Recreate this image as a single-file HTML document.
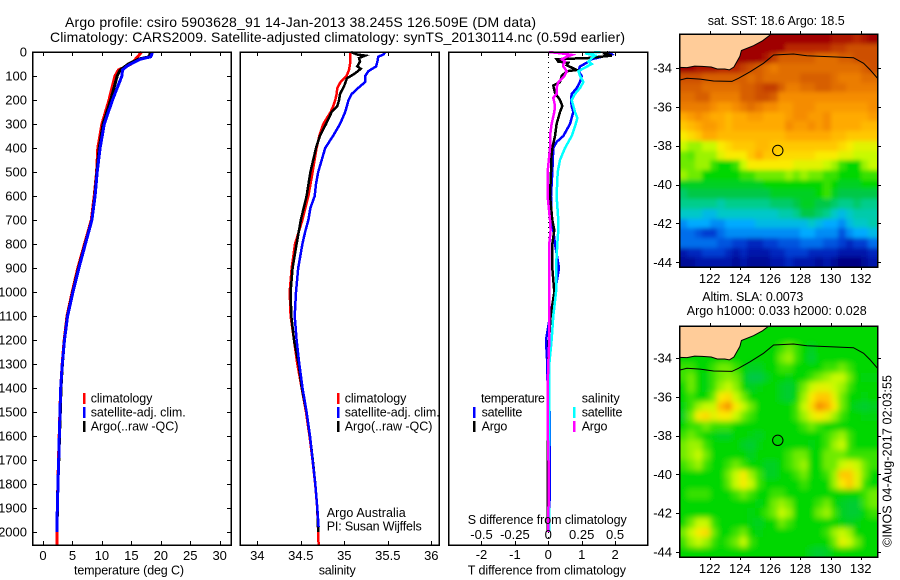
<!DOCTYPE html>
<html>
<head>
<meta charset="utf-8">
<title>Argo profile</title>
<style>
html,body{margin:0;padding:0;background:#fff;}
svg{display:block;}
text{font-family:"Liberation Sans",sans-serif;fill:#000;font-size:12.5px;}
.t13{font-size:13px;}
.title{font-size:14px;}
.frame{fill:none;stroke:#000;stroke-width:1.5;shape-rendering:crispEdges;}
.swatch{stroke:none;shape-rendering:crispEdges;}
</style>
</head>
<body>
<svg id="chart" xmlns="http://www.w3.org/2000/svg" width="900" height="580" viewBox="0 0 900 580">
  <defs>
    <clipPath id="clip-sst"><rect x="679.5" y="34" width="198" height="233"/></clipPath>
    <clipPath id="clip-sla"><rect x="679.5" y="326" width="198" height="231"/></clipPath>
    <filter id="soften-sst" filterUnits="userSpaceOnUse" x="650" y="0" width="250" height="300"><feGaussianBlur stdDeviation="2"/></filter>
    <filter id="soften-sla" filterUnits="userSpaceOnUse" x="650" y="300" width="250" height="280"><feGaussianBlur stdDeviation="2.8"/></filter>
  </defs>
  <text class="title" x="65" y="27" textLength="471" lengthAdjust="spacing">Argo profile: csiro 5903628_91 14-Jan-2013 38.245S 126.509E (DM data)</text>
  <text class="title" x="50" y="42" textLength="575" lengthAdjust="spacing">Climatology: CARS2009. Satellite-adjusted climatology: synTS_20130114.nc (0.59d earlier)</text>

  <g id="marks-temp"></g>
  <g id="marks-sal"></g>
  <g id="marks-diff"></g>
  <g id="map-sst" clip-path="url(#clip-sst)"></g>
  <g id="map-sla" clip-path="url(#clip-sla)"></g>
  <g id="axes"></g>

  <rect class="frame" x="32.5" y="52" width="198.5" height="493"/>
  <rect class="frame" x="240" y="52" width="199" height="493"/>
  <rect class="frame" x="448.5" y="52" width="199" height="493"/>
  <rect class="frame" x="679.5" y="34" width="198" height="233"/>
  <rect class="frame" x="679.5" y="326" width="198" height="231"/>

  <!-- temperature legend -->
  <rect class="swatch" x="83" y="393" width="2.5" height="11" fill="#ff0000"/>
  <rect class="swatch" x="83" y="407" width="2.5" height="11" fill="#0000ff"/>
  <rect class="swatch" x="83" y="421" width="2.5" height="11" fill="#000000"/>
  <text x="90.7" y="402.5" textLength="61.7">climatology</text>
  <text x="90.7" y="416.5" textLength="95">satellite-adj. clim.</text>
  <text x="90.7" y="430.5" textLength="87.7">Argo(..raw -QC)</text>

  <!-- salinity legend -->
  <rect class="swatch" x="337" y="393" width="2.5" height="11" fill="#ff0000"/>
  <rect class="swatch" x="337" y="407" width="2.5" height="11" fill="#0000ff"/>
  <rect class="swatch" x="337" y="421" width="2.5" height="11" fill="#000000"/>
  <text x="344.7" y="402.5" textLength="61.7">climatology</text>
  <text x="344.7" y="416.5" textLength="95">satellite-adj. clim.</text>
  <text x="344.7" y="430.5" textLength="87.7">Argo(..raw -QC)</text>
  <text x="326.7" y="517" textLength="79">Argo Australia</text>
  <text x="326.7" y="530.7" textLength="95">PI: Susan Wijffels</text>

  <!-- difference legend -->
  <text x="481" y="402.5" textLength="64">temperature</text>
  <text x="581.7" y="402.5" textLength="38">salinity</text>
  <rect class="swatch" x="473" y="407" width="2.5" height="11" fill="#0000ff"/>
  <rect class="swatch" x="473" y="421" width="2.5" height="11" fill="#000000"/>
  <rect class="swatch" x="573" y="407" width="2.5" height="11" fill="#00ffff"/>
  <rect class="swatch" x="573" y="421" width="2.5" height="11" fill="#ff00ff"/>
  <text x="481.6" y="416.5" textLength="40.7">satellite</text>
  <text x="481.6" y="430.5" textLength="25.7">Argo</text>
  <text x="581.7" y="416.5" textLength="40.7">satellite</text>
  <text x="581.7" y="430.5" textLength="25.7">Argo</text>

  <!-- axis titles -->
  <text x="74" y="574.5" textLength="110">temperature (deg C)</text>
  <text x="318.7" y="574.5" textLength="37">salinity</text>
  <text x="467.7" y="574.5" textLength="158.3">T difference from climatology</text>
  <text x="467.7" y="524" textLength="159">S difference from climatology</text>

  <!-- map titles -->
  <text x="707.7" y="25" textLength="137">sat. SST: 18.6 Argo: 18.5</text>
  <text x="702.3" y="301" textLength="101">Altim. SLA: 0.0073</text>
  <text x="686.7" y="315" textLength="180">Argo h1000: 0.033 h2000: 0.028</text>
  <text transform="translate(891.5,547) rotate(-90)" x="0" y="0" textLength="172">©IMOS 04-Aug-2017 02:03:55</text>
</svg>

<script>
// ---------- profile data ----------
const tempClimDepth = [0,50,75,100,200,300,400,500,600,700,800,900,1000,1100,1200,1300,1400,1500,1600,1700,1800,1900,2000,2054];
const tempClimValue = [16.75,15.0,12.8,12.2,11.2,10.0,9.3,9.1,8.7,8.2,7.05,5.9,4.95,4.08,3.6,3.26,3.0,2.87,2.75,2.64,2.53,2.42,2.38,2.38];
const tempArgoDepth = [0,20,30,50,75,100,150,200,300,400,500,600,700,800,900,1000,1100,1200,1300,1400,1500,1600,1700,1800,1900,2000];
const tempArgoValue = [18.3,18.0,16.2,14.5,13.1,12.6,12.05,11.5,10.2,9.55,9.15,8.8,8.28,7.15,6.02,5.05,4.14,3.63,3.3,3.05,2.93,2.8,2.68,2.53,2.44,2.38];
const tempSatDepth = [0,20,30,50,60,75,100,150,200,300,400,500,600,700,800,900,1000,1100,1200,1300,1400,1500,1600,1700,1800,1900,2000];
const tempSatValue = [18.6,18.3,16.5,14.9,14.2,13.5,13.4,12.6,11.8,10.4,9.7,9.2,8.85,8.3,7.2,6.1,5.1,4.17,3.65,3.28,3.0,2.89,2.77,2.66,2.55,2.43,2.38];

const salClimDepth = [0,50,75,100,125,150,175,200,225,250,300,350,400,500,600,700,800,900,1000,1100,1200,1300,1400,1500,1600,1700,1800,1900,2000,2054];
const salClimValue = [35.07,35.065,35.054,35.027,34.958,34.92,34.912,34.897,34.874,34.843,34.759,34.713,34.682,34.636,34.587,34.518,34.433,34.395,34.372,34.383,34.422,34.46,34.51,34.56,34.6,34.634,34.665,34.688,34.7,34.705];
const salArgoDepth = [0,10,15,25,40,60,70,90,110,140,175,200,225,250,300,350,400,500,600,700,800,900,1000,1100,1200,1300,1400,1500,1600,1700,1800,1900,2000];
const salArgoValue = [35.08,35.14,35.24,35.17,35.18,35.15,35.19,35.12,35.03,35.0,34.95,34.94,34.92,34.855,34.79,34.72,34.675,34.61,34.567,34.5,34.452,34.406,34.383,34.391,34.422,34.475,34.512,34.565,34.605,34.638,34.667,34.69,34.7];
const salSatDepth = [0,10,20,40,60,80,100,125,150,175,200,250,300,350,400,450,500,550,600,650,700,750,800,900,1000,1100,1200,1300,1400,1500,1600,1700,1800,1900,1980];
const salSatValue = [35.47,35.45,35.39,35.38,35.365,35.276,35.24,35.24,35.16,35.085,35.05,35.01,34.95,34.87,34.78,34.74,34.7,34.675,34.66,34.61,34.587,34.55,34.518,34.47,34.445,34.43,34.452,34.483,34.52,34.567,34.606,34.636,34.667,34.69,34.705];

const diffTArgoDepth = [0,7,15,25,30,40,45,55,75,80,100,125,140,170,200,225,250,300,350,400,450,500,600,700,742,800,900,1000,1100,1200,1300,1400,1600,1800,2000];
const diffTArgoValue = [1.8,1.7,1.9,1.2,.25,.3,.6,.55,.85,.55,.4,.35,.15,.2,.35,.42,.35,.25,.2,.12,.08,.08,.05,.12,.18,.12,.12,.18,.07,.02,0,-.02,-.02,-.02,-.02];
const diffTSatDepth = [0,10,20,30,45,60,80,100,125,150,175,200,225,250,300,350,375,400,500,600,700,742,800,900,1000,1100,1200,1300,1400,1500,1800,1900,2000];
const diffTSatValue = [1.8,1.9,1.6,1.3,1.15,.95,.9,1.0,.95,.85,.7,.68,.7,.75,.65,.45,.25,.15,.12,.08,.1,.15,.2,.32,.2,.05,-.07,-.03,-.02,.04,.05,.03,0];
const diffSSatDepth = [0,5,15,25,40,50,65,80,100,125,150,175,200,250,275,300,350,400,450,500,600,700,742,800,900,1000,1100,1200,1300,1400,1600,1700,1850,1900,2000];
const diffSSatValue = [.39,.275,.35,.325,.3,.325,.275,.225,.2375,.2625,.2375,.2,.175,.2,.2175,.205,.175,.125,.0875,.07,.0625,.075,.075,.0675,.0575,.0575,.0375,.025,.0075,.0075,.0075,.002,.002,.005,.005];
const diffSArgoDepth = [0,5,12,20,30,40,50,60,80,100,125,150,175,190,225,250,300,350,400,500,600,700,742,800,1200,1300,1400,1600,1750,1800,2000];
const diffSArgoValue = [.005,.0875,.175,.1375,.1,.125,.1125,.1125,.1375,.12,.075,.0625,.0625,.0375,.05,.045,.025,.0125,.0125,-.005,-.005,.0125,.0175,.0075,.0075,0,-.005,-.003,.004,.003,0];

// ---------- tick labels ----------
const depthTicks = [0,100,200,300,400,500,600,700,800,900,1000,1100,1200,1300,1400,1500,1600,1700,1800,1900,2000];
const tempTicks = [0,5,10,15,20,25,30];
const salTicks = [34,34.5,35,35.5,36];
const diffTTicks = [-2,-1,0,1,2];
const diffSTicks = [-0.5,-0.25,0,0.25,0.5];
const lonTicks = [122,124,126,128,130,132];
const latTicks = [-34,-36,-38,-40,-42,-44];

// ---------- map data (colour-scale levels, 0 = coldest/lowest, 18 = warmest/highest; 0.5 degree cells) ----------
const sstGrid = [
[18,18,18,18,18,18,18,18,18,18,18,18,18,18,18,18,18,18,18,18,17.5,17.5,17.5,17,17.5,18],
[18,18,18,18,18,18,18,18,18,18,18,18,18,18,17,17,17,17,17,17,16.5,16.5,16,16,16,16],
[18,18,18,18,18,18,18,18,18,18,18,17.5,16.5,15.5,15.5,15.5,15.5,15.5,15,15,15,15.5,15.5,16,16,16],
[18,18,17.5,17.5,17.5,17,17,17,16.5,16,15.5,15,14.5,15,15,15,15,15,15,15,15,15,15,15,15.5,16],
[16,16,16,15.5,15.5,15.5,15.5,15.5,15.5,15,15.5,15,15,15,15,15,15.5,15.5,15.5,15.5,15,14.5,14.5,14.5,15,15],
[15.5,15.5,15.5,15,15,15,15,15,15.5,15.5,16,16.5,16.5,15.5,14.5,14.5,15,15,15.5,15.5,15,15,14.5,14.5,14.5,14.5],
[15,15,15.5,15.5,14.5,14.5,14.5,14.5,15.5,15.5,16,16,15.5,14,14,14,14,14,14,14,14,14,14,14,14,14],
[14.5,14.5,14.5,14.5,14,13.5,13.5,14,14.5,15,14.5,14,14,13.5,13.5,14,14,14,13.5,13.5,13.5,13.5,13.5,13.5,13.5,14],
[13,13.5,14,13.5,13,13,12.5,13,13,13.5,13.5,13,13,13,13.5,14,14,13.5,13.5,14,13,13,13,13,13,13.5],
[12,12.5,13,13.5,13.5,13,12.5,13,13,13,13,13,13,13,14,13.5,13.5,14,13.5,14,13,13,13,13,12.5,12.5],
[11,11.5,12,13,13,12.5,12.5,12.5,12.5,12.5,12.5,12.5,12.5,12.5,13,13,13,13,13,13,12.5,12.5,12,12,12,12],
[10,9.5,9.5,10,10,11,11.5,12,12,12,12.5,12.5,12,12,12,12,12,12,12,12,12,11.5,11,10.5,10.5,10.5],
[9,8.8,9.5,9.5,9.5,10.5,11,11,11,12,13,12,12,11.5,11.5,11.5,11.5,11.5,11,11,11,10.5,10.5,10,10,10],
[9,9,9.5,9.5,8.5,8,8,8.5,10,11,11,11,11,11,11,10.5,10.5,10.5,10.5,10,9.5,8.5,8,8,9.5,10],
[9.5,9,9,8,8,8,8,8,8.5,8.5,9,9,9,9,9.5,9,9.5,9,9,8.5,8.5,8,8,8,8.5,8.5],
[7.5,7.5,7.5,7.5,7.5,7.5,7.5,7.5,7.5,7.5,7.5,8,8,8,8,8,8,8,8,8.5,8,7.5,7.5,7.5,8,8],
[6.5,7,7,7,7,7,7,7,7,7,7,7,7.5,7.5,7.5,7.5,7.5,7.5,8,8.5,7.5,7,7,7,7,7],
[6,6,6,6,6,5.5,6,6,6,6,6,6,6.5,6.5,6.5,7,7.5,7.5,7,7,6.5,6,6,6.5,6,6],
[5,5,5,4.5,4.5,5,5,5,5,5,5,5,5,5.5,5.5,6,7,7,6.5,6,5,4.5,5,5.5,5.5,5.5],
[3.5,4,4,4,3.5,3.5,4,4,4,4,4.5,4.5,4.5,4.5,4.5,4.5,4.5,5,4.5,4,4,3.5,4.5,5,5,5.5],
[3,3,2.5,2,2,3,3.5,3.5,3.5,3.5,3.5,3.5,3.5,3.5,3.5,3.5,4,4,3.5,3.5,3.5,2.5,3.5,4,4,4.5],
[3,3,3,3,3,2.5,2.5,2,2,1.5,1.5,2,2,2.5,2.5,2.5,3,3,3,2.5,2.5,2,1.5,2,2,3],
[1,1.5,1.5,2,2,2,1.5,1,1.5,1,1,1,1.5,1.5,2,2,2,1.5,1.5,1.5,1.5,1,1,1,1,1.5],
[.5,.5,1,1,1,1,1,.5,1,.5,.5,.5,1,1,1.5,1,1,1,.5,1,.5,0,0,0,.5,1]
];
const slaGrid = [
[8,8,8,8,8,8,8,8,8,8,8,8,8,8,8,8,8,8,8,8,8,8,8,8,8,8],
[8,8,8,8,8,8,8,8,8,8,8,8,8,8,8,8,8,8,8,8,8,8,8,8,8,8],
[8,8,8,8,8,8,8,8,8,8,8,8,8,8.5,9,8.5,8,7.5,8,8,8,8,8,8,8,8],
[8,8,8,8,8,8,8,8,8,8,8,8,8,9,9.5,8.5,8,7.3,8,8,8,8,8,8,8,8],
[8.5,8.5,8,8,8.5,9,9,8.5,8,7.5,7.5,8,8,8.5,8.5,8,8,8,8,8.5,8.5,9,8.5,8,8,8],
[8.5,9,8,7.8,8.5,9,9.3,9,7.8,7,7,7.5,8,8,7.8,8,8,8.5,9,9.5,10,10,9,8,7.8,7.8],
[8,9,8,7.8,8.5,9.5,10,9.3,8,7.5,7.8,8,8,7.5,7.3,7.8,9,10,10.5,10.5,10,9.5,8.5,8,8,8],
[8,8.5,8,8,9,11,11.5,10,9,8,8,8,8,7.5,7.3,8,9.5,11,12,12,10.5,9,8,8,7.8,8],
[7.8,8.5,9.5,10,10,12.5,14,11,10,9,8,8,8,8,8,8.5,10,11.5,14,13,11,9,8,7.5,7.3,7.5],
[7.5,9,11,11.5,10.5,11,11,10,9,8.5,8,8,8,8,8,8.5,9.5,10.5,11,10.5,9.5,8.5,8,8,7.8,7.8],
[8,8.5,8.5,9,8.5,8.5,8.5,8,8,8,8,8,8,8,8,8,8.5,9,8.5,8,8,8,8,8,8,8],
[8.5,9,8.5,8,7.8,7.5,7.5,8,8,7.8,7.5,8,8,8,8,8,8,8,8,8.5,9,9.5,8.5,8,8,8],
[9,9.5,9.5,8.5,8,8,8,8,7.5,7.3,7.8,8,8,8,8,8,8,7.8,8,8.5,9.5,10,8.5,8,8,8],
[9,9.5,10,9,8,8,8,8,8,7.5,8,8,8,8,8.5,9,9,8,8,9,9,9,8.5,8.5,8.5,8.5],
[8.5,9,9.5,8.5,8,8,8.5,9,8.5,8,8,7.5,7.5,8,8.5,9,9.5,8,8,9,9,10,10.5,10,9,8.5],
[8,8,8,8,8,8,9,10,11,9.5,8.5,7.5,7.5,8,8,8.5,9,8,8,8.5,9.5,12,12,10.5,9,8],
[8,8,8,8,8,8,8.8,10,11,10,8.5,8,8,8,8,8,8.5,8,8,8,9.5,11,12,10.5,8.5,8],
[8,8.5,8.5,8.5,8,8,8,8.5,9,8.5,8,8,8.5,8.5,8,8,8,8,8,8,8,8,8,8,8.5,9],
[8,8,8,8,8,8,8,8,8,8,7.8,8,9,9.5,9,8,8,8,8.5,9,8,7.5,7.3,7.3,8.5,9],
[8,8,8,8,8,8,8,8,8,7.8,8,8.5,9,10,9.5,8,8,8,9,9.5,8.5,7.5,7.3,7.3,8,8.5],
[8,9,10,10,8.5,8,8,8,8,7.8,7.5,8,8,9,8.5,8,8,8,8,8,8,7.8,7.5,7.8,8,8],
[9,10,11,11.5,9,8,8,8.5,9,8,7.8,8,8,8,8,8,8,8,8,8.5,9.5,10,9.5,8,8,8],
[8.5,9.5,10,9.5,8.5,8,8.5,9,10,8.5,8,8,8,8,8,8,8,8,8,8,9,10.5,10,9,8,8],
[8,8,8,8,8,8,8,8,8,8,8,8,8,8,8,8,8,7.5,7.3,7.5,8,8,8,8,8,8]
];
const gridLonStart = 120;
const gridLatStart = -32.25;
const gridStep = 0.5;

// coastline and 200 m contour, as lon/lat pairs
const coastLon = [120,120.5,121,121.5,122.1,122.5,123,123.3,123.6,124,124.1,124.9,125.5,126];
const coastLat = [-33.97,-33.98,-33.9,-33.92,-33.95,-34.05,-34.05,-34.1,-33.95,-33.4,-33.1,-32.85,-32.6,-32.3];
const contourLon = [120,120.49,121.37,122.25,123.47,123.91,124.68,125.56,126.23,127.55,128.44,129.98,131.52,132.19,132.63,133.11];
const contourLat = [-34.63,-34.53,-34.57,-34.67,-34.69,-34.53,-34.19,-33.76,-33.33,-33.28,-33.37,-33.42,-33.47,-33.76,-34.1,-34.53];
const profileLon = 126.509;
const profileLat = -38.245;

// colour scale stops (level -> rgb)
const colourScale = [[0,0,130],[0,20,170],[0,60,210],[0,110,235],[0,170,255],[0,200,200],[0,205,140],[0,200,70],[0,215,0],[110,235,0],[200,250,0],[250,235,0],[255,200,0],[255,170,0],[245,140,0],[225,110,0],[205,80,0],[185,40,0],[160,0,0]];

// ---------- axis functions ----------
const SVGNS = 'http://www.w3.org/2000/svg';
const yDepth = d => 52 + 0.24 * d;
const xTemp = t => 43 + 5.89 * t;
const xSal = s => 257.3 + 87 * (s - 34);
const xDiffT = t => 548.3 + 33.4 * t;
const xDiffS = s => 548.3 + 133.6 * s;
const xLon = lon => 679.5 + 15.1 * (lon - 120);
const ySst = lat => 68 + 19.43 * (-34 - lat);
const ySla = lat => 358 + 19.4 * (-34 - lat);

function colourFor(v){
  const lo = Math.max(0, Math.min(colourScale.length - 2, Math.floor(v)));
  const f = v - lo;
  const a = colourScale[lo], b = colourScale[lo + 1];
  return 'rgb(' + [0,1,2].map(i => Math.round(a[i] + (b[i] - a[i]) * f)).join(',') + ')';
}
function make(tag, parent){
  const el = document.createElementNS(SVGNS, tag);
  parent.appendChild(el);
  return el;
}
function drawProfile(parent, name, depths, values, xf, colour, width){
  const el = make('polyline', parent);
  
  
  el.setAttribute('points', depths.map((d, i) => xf(values[i]).toFixed(1) + ',' + yDepth(d).toFixed(1)).join(' '));
  el.setAttribute('fill', 'none');
  el.setAttribute('stroke', colour);
  el.setAttribute('stroke-width', width);
  el.setAttribute('shape-rendering', 'crispEdges');
}
function drawTick(parent, x1, y1, x2, y2){
  const el = make('line', parent);
  
  
  el.setAttribute('x1', x1);
  el.setAttribute('y1', y1);
  el.setAttribute('x2', x2);
  el.setAttribute('y2', y2);
  el.setAttribute('stroke', '#000');
  el.setAttribute('stroke-width', '1');
  el.setAttribute('shape-rendering', 'crispEdges');
}
function drawLabel(parent, x, y, str, anchor, cls){
  const el = make('text', parent);
  
  
  el.setAttribute('x', x);
  el.setAttribute('y', y);
  el.setAttribute('text-anchor', anchor);
  el.setAttribute('class', cls);
  el.textContent = str;
}

// ---------- profile panels ----------
const gTemp = document.getElementById('marks-temp');
drawProfile(gTemp, 'temperature-climatology-line', tempClimDepth, tempClimValue, xTemp, '#ff0000', 3);
drawProfile(gTemp, 'temperature-argo-line', tempArgoDepth, tempArgoValue, xTemp, '#000000', 3);
drawProfile(gTemp, 'temperature-satellite-line', tempSatDepth, tempSatValue, xTemp, '#0000ff', 3);

const gSal = document.getElementById('marks-sal');
drawProfile(gSal, 'salinity-climatology-line', salClimDepth, salClimValue, xSal, '#ff0000', 2.5);
drawProfile(gSal, 'salinity-argo-line', salArgoDepth, salArgoValue, xSal, '#000000', 2.5);
drawProfile(gSal, 'salinity-satellite-line', salSatDepth, salSatValue, xSal, '#0000ff', 2.5);

const gDiff = document.getElementById('marks-diff');
const zeroLine = make('line', gDiff);


zeroLine.setAttribute('x1', xDiffT(0));
zeroLine.setAttribute('x2', xDiffT(0));
zeroLine.setAttribute('y1', yDepth(0));
zeroLine.setAttribute('y2', yDepth(2054));
zeroLine.setAttribute('stroke', '#000');
zeroLine.setAttribute('stroke-width', '1');
zeroLine.setAttribute('stroke-dasharray', '1 4');
zeroLine.setAttribute('shape-rendering', 'crispEdges');
drawProfile(gDiff, 't-difference-satellite-line', diffTSatDepth, diffTSatValue, xDiffT, '#0000ff', 2.5);
drawProfile(gDiff, 't-difference-argo-line', diffTArgoDepth, diffTArgoValue, xDiffT, '#000000', 2.5);
drawProfile(gDiff, 's-difference-satellite-line', diffSSatDepth, diffSSatValue, xDiffS, '#00ffff', 2.5);
drawProfile(gDiff, 's-difference-argo-line', diffSArgoDepth, diffSArgoValue, xDiffS, '#ff00ff', 2.5);

// ---------- maps ----------
function drawMap(id, grid, yLat, name, softenId){
  const g = document.getElementById(id);
  const cells = make('g', g);
  
  
  cells.setAttribute('filter', 'url(#' + softenId + ')');
  grid.forEach((row, i) => {
    row.forEach((v, j) => {
      const lon = gridLonStart + j * gridStep;
      const lat = gridLatStart - i * gridStep;
      // outermost cells run past the frame so the softening does not fade at the edge
      const x0 = Math.round(xLon(lon)) - (j === 0 ? 12 : 0);
      const x1 = Math.round(xLon(lon + gridStep)) + (j === row.length - 1 ? 12 : 0);
      const y0 = Math.round(yLat(lat)) - (i === 0 ? 12 : 0);
      const y1 = Math.round(yLat(lat - gridStep)) + (i === grid.length - 1 ? 14 : 0);
      const cell = make('rect', cells);
      
      
      cell.setAttribute('x', x0);
      cell.setAttribute('y', y0);
      cell.setAttribute('width', x1 - x0);
      cell.setAttribute('height', y1 - y0);
      cell.setAttribute('fill', colourFor(v));
      cell.setAttribute('shape-rendering', 'crispEdges');
    });
  });
  const top = yLat(gridLatStart) - 10;
  const coastPts = coastLon.map((lon, i) => xLon(lon).toFixed(1) + ',' + yLat(coastLat[i]).toFixed(1));
  const land = make('polygon', g);
  
  
  land.setAttribute('points', xLon(120) + ',' + top + ' ' + coastPts.join(' ') + ' ' + xLon(126.1) + ',' + top);
  land.setAttribute('fill', '#ffcc99');
  land.setAttribute('stroke', 'none');
  const coast = make('polyline', g);
  
  
  coast.setAttribute('points', coastPts.join(' '));
  coast.setAttribute('fill', 'none');
  coast.setAttribute('stroke', '#000');
  coast.setAttribute('stroke-width', '1');
  const contour = make('polyline', g);
  
  
  contour.setAttribute('points', contourLon.map((lon, i) => xLon(lon).toFixed(1) + ',' + yLat(contourLat[i]).toFixed(1)).join(' '));
  contour.setAttribute('fill', 'none');
  contour.setAttribute('stroke', '#000');
  contour.setAttribute('stroke-width', '1');
  const marker = make('circle', g);
  
  
  marker.setAttribute('cx', xLon(profileLon));
  marker.setAttribute('cy', yLat(profileLat));
  marker.setAttribute('r', '5.2');
  marker.setAttribute('fill', 'none');
  marker.setAttribute('stroke', '#000');
  marker.setAttribute('stroke-width', '1');
}
drawMap('map-sst', sstGrid, ySst, 'sst-map', 'soften-sst');
drawMap('map-sla', slaGrid, ySla, 'sla-map', 'soften-sla');

// ---------- ticks ----------
const gAxes = document.getElementById('axes');
depthTicks.forEach(d => {
  const y = Math.round(yDepth(d)) + 0.5;
  drawTick(gAxes, 33, y, 37, y);
  drawTick(gAxes, 227, y, 231, y);
  drawLabel(gAxes, 27, yDepth(d) + 4.5, String(d), 'end', 't13');
});
tempTicks.forEach(t => {
  const x = Math.round(xTemp(t)) + 0.5;
  drawTick(gAxes, x, 52, x, 56);
  drawTick(gAxes, x, 541, x, 545);
  drawLabel(gAxes, xTemp(t), 560, String(t), 'middle', 't13');
});
salTicks.forEach(s => {
  const x = Math.round(xSal(s)) + 0.5;
  drawTick(gAxes, x, 52, x, 56);
  drawTick(gAxes, x, 541, x, 545);
  drawLabel(gAxes, xSal(s), 560, String(s), 'middle', 't13');
});
diffTTicks.forEach(t => {
  const x = Math.round(xDiffT(t)) + 0.5;
  drawTick(gAxes, x, 52, x, 56);
  drawTick(gAxes, x, 541, x, 545);
  drawLabel(gAxes, xDiffT(t), 559, String(t), 'middle', 't13');
});
diffSTicks.forEach(s => {
  drawLabel(gAxes, xDiffS(s), 539, String(s), 'middle', 't13');
});
function mapTicks(yLat, top, bottom){
  lonTicks.forEach(lon => {
    const x = Math.round(xLon(lon)) + 0.5;
    drawTick(gAxes, x, top - 3, x, top);
    drawTick(gAxes, x, bottom, x, bottom + 3);
    drawLabel(gAxes, xLon(lon), bottom + 16, String(lon), 'middle', 't13');
  });
  latTicks.forEach(lat => {
    const y = Math.round(yLat(lat)) + 0.5;
    drawTick(gAxes, 676, y, 679.5, y);
    drawTick(gAxes, 877.5, y, 881, y);
    drawLabel(gAxes, 672, yLat(lat) + 4.5, String(lat), 'end', 't13');
  });
}
mapTicks(ySst, 34, 267);
mapTicks(ySla, 326, 557);
</script>
</body>
</html>
